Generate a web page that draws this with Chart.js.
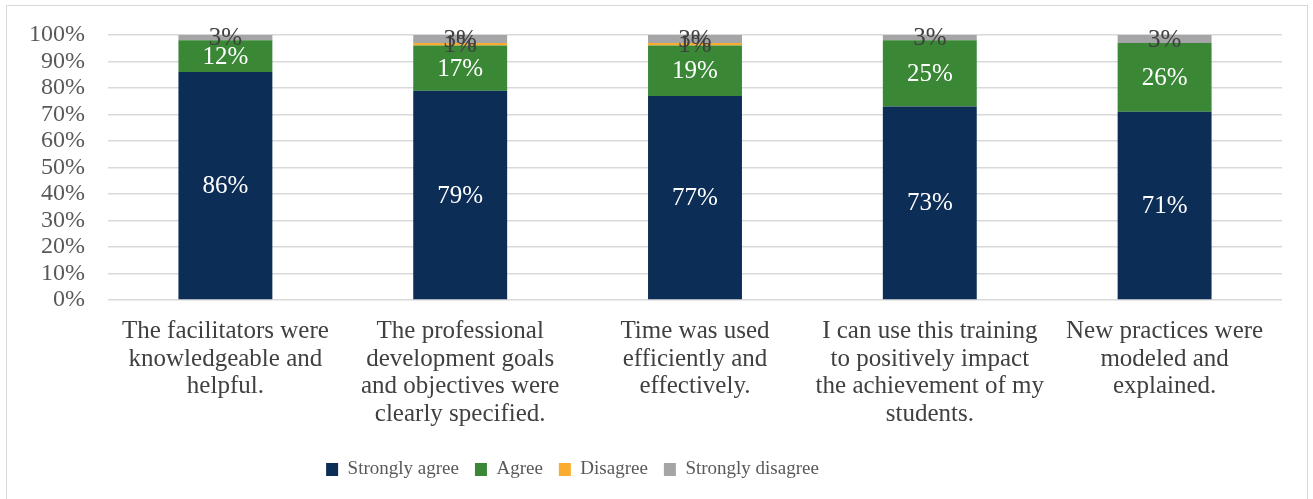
<!DOCTYPE html>
<html lang="en">
  <head>
    <meta charset="UTF-8" />
    <title>Training survey</title>
    <style>
      body {
        margin: 0;
        background: #fff;
      }
      .chart_frame {
        position: absolute;
        left: 6px;
        top: 5px;
        width: 1300px;
        height: 500px;
        border: 1px solid #d9d9d9;
      }
    </style>
  </head>
  <body>
    <div class="chart_frame">
      <canvas id="myChart" width="1300" height="500"></canvas>
    </div>
  </body>
  <script src="https://cdn.jsdelivr.net/npm/chart.js"></script>
  <script>
    const questions = [
      ["The facilitators were", "knowledgeable and", "helpful."],
      ["The professional", "development goals", "and objectives were", "clearly specified."],
      ["Time was used", "efficiently and", "effectively."],
      ["I can use this training", "to positively impact", "the achievement of my", "students."],
      ["New practices were", "modeled and", "explained."],
    ];
    const stronglyAgree = [86, 79, 77, 73, 71];
    const agree = [12, 17, 19, 25, 26];
    const disagree = [0, 1, 1, 0, 0];
    const stronglyDisagree = [3, 3, 3, 3, 3];

    const serif = "'Liberation Serif', serif";

    // draws "xx%" in the middle of each segment
    const barLabels = {
      id: "barLabels",
      afterDatasetsDraw(chart) {
        const ctx = chart.ctx;
        const area = chart.chartArea;
        ctx.save();
        ctx.font = "25px " + serif;
        ctx.textAlign = "center";
        ctx.textBaseline = "middle";
        chart.data.datasets.forEach((ds, i) => {
          const meta = chart.getDatasetMeta(i);
          meta.data.forEach((bar, j) => {
            const v = ds.data[j];
            if (!v) return;
            const top = Math.max(bar.y, area.top);
            const y = (top + bar.base) / 2;
            ctx.fillStyle = i < 2 ? "#ffffff" : "#404040";
            ctx.fillText(v + "%", bar.x, y + 1);
          });
        });
        ctx.restore();
      },
    };

    // legend sits a bit left of centre
    const legendShift = {
      id: "legendShift",
      afterLayout(chart) {
        chart.legend.left -= 72;
        chart.legend.right -= 72;
      },
    };

    const ctx = document.getElementById("myChart");
    new Chart(ctx, {
      type: "bar",
      data: {
        labels: questions,
        datasets: [
          { label: "Strongly agree", data: stronglyAgree, backgroundColor: "#0c2d56" },
          { label: "Agree", data: agree, backgroundColor: "#3a8736" },
          { label: "Disagree", data: disagree, backgroundColor: "#f9ac2f" },
          { label: "Strongly disagree", data: stronglyDisagree, backgroundColor: "#a5a5a8" },
        ],
      },
      options: {
        responsive: false,
        animation: false,
        layout: { padding: { top: 29, right: 25, bottom: 17, left: 0 } },
        datasets: { bar: { categoryPercentage: 1, barPercentage: 0.4 } },
        scales: {
          x: {
            stacked: true,
            grid: { display: false },
            border: { display: false },
            ticks: {
              color: "#404040",
              font: { family: serif, size: 25, lineHeight: 1.1 },
              maxRotation: 0,
              autoSkip: false,
              padding: 10,
            },
            afterFit(axis) {
              axis.height = 144;
            },
          },
          y: {
            stacked: true,
            min: 0,
            max: 100,
            grid: {
              color: "#d9d9d9",
              lineWidth: 1.5,
              tickLength: 22,
              tickColor: "rgba(0,0,0,0)",
            },
            border: { display: false },
            ticks: {
              stepSize: 10,
              autoSkip: false,
              color: "#595959",
              font: { family: serif, size: 24 },
              padding: 1,
              callback: (v) => v + "%",
            },
            afterFit(axis) {
              axis.width = 101;
            },
          },
        },
        plugins: {
          legend: {
            position: "bottom",
            labels: {
              color: "#595959",
              font: { family: serif, size: 19 },
              boxWidth: 12,
              boxHeight: 13,
              padding: 16,
            },
          },
          tooltip: { enabled: false },
        },
      },
      plugins: [barLabels, legendShift],
    });
  </script>
</html>
